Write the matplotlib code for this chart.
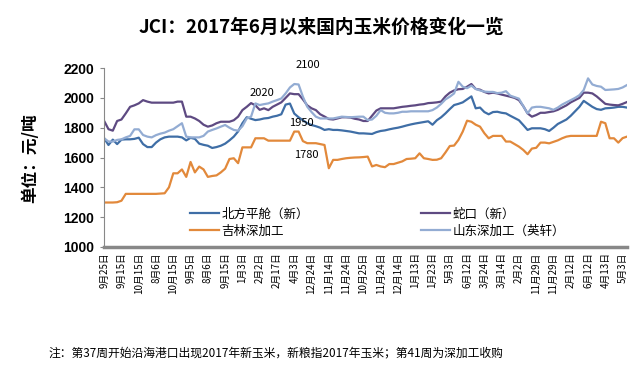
import matplotlib
matplotlib.use('Agg')
import matplotlib.pyplot as plt

plt.rcParams['font.family'] = ['Noto Sans CJK SC', 'DejaVu Sans']

# 日期标签（每4个数据点一个）
tick_labels = ['9月25日', '9月15日', '10月15日', '8月6日', '10月15日', '9月5日', '8月6日',
               '9月15日', '1月3日', '2月2日', '2月17日', '4月3日', '12月24日', '11月14日',
               '11月24日', '10月25日', '11月24日', '12月14日', '1月13日', '1月23日', '5月3日',
               '6月12日', '3月24日', '3月14日', '2月2日', '11月29日', '11月29日', '2月12日',
               '6月12日', '4月13日', '5月3日']

beifang = [1729, 1684, 1720, 1690, 1720, 1722, 1722, 1725, 1733, 1690,
           1670, 1670, 1700, 1722, 1735, 1740, 1740, 1740, 1735, 1715,
           1732, 1725, 1693, 1685, 1679, 1664, 1670, 1679, 1693, 1715,
           1740, 1775, 1830, 1870, 1860, 1851, 1855, 1862, 1865, 1874,
           1880, 1890, 1955, 1962, 1895, 1870, 1850, 1830, 1818, 1810,
           1800, 1785, 1790, 1785, 1785, 1782, 1778, 1774, 1768, 1762,
           1762, 1760, 1758, 1770, 1778, 1782, 1789, 1795, 1800, 1807,
           1815, 1822, 1828, 1833, 1838, 1843, 1820, 1850, 1870, 1896,
           1925, 1952, 1960, 1970, 1990, 2010, 1930, 1935, 1905, 1890,
           1905, 1907, 1900, 1896, 1880, 1865, 1850, 1818, 1785, 1796,
           1796, 1796, 1790, 1778, 1800, 1825, 1840, 1855, 1880, 1910,
           1940, 1980, 1960, 1940, 1925, 1920, 1930, 1932, 1935, 1940,
           1940, 1935]

shekou = [1845, 1790, 1780, 1845, 1855, 1896, 1940, 1950, 1963, 1985,
          1975, 1968, 1968, 1968, 1968, 1968, 1968, 1975, 1975, 1874,
          1874, 1862, 1845, 1820, 1807, 1815, 1830, 1840, 1840, 1840,
          1850, 1874, 1918, 1940, 1965, 1950, 1920, 1930, 1918, 1940,
          1955, 1970, 2000, 2030, 2025, 2025, 1990, 1950, 1930, 1918,
          1890, 1875, 1858, 1855, 1862, 1870, 1870, 1868, 1860, 1855,
          1845, 1845, 1880, 1915, 1930, 1930, 1930, 1930, 1935, 1940,
          1943, 1947, 1950, 1955, 1958, 1965, 1967, 1970, 1975, 2010,
          2035, 2050, 2058, 2060, 2075, 2093, 2060, 2055, 2040, 2030,
          2035, 2030, 2022, 2015, 2008, 2000, 1985, 1945, 1896, 1874,
          1885, 1900, 1900, 1905, 1910, 1920, 1935, 1950, 1970, 1985,
          2000, 2035, 2035, 2030, 2010, 1985, 1960, 1955, 1952, 1950,
          1960, 1972]

jilin = [1298, 1298, 1298, 1300, 1310, 1356, 1356, 1356, 1356, 1356,
         1356, 1356, 1356, 1358, 1360, 1400, 1494, 1494, 1520, 1470,
         1570, 1500, 1539, 1520, 1470, 1476, 1480, 1500, 1525, 1590,
         1595, 1562, 1668, 1668, 1668, 1729, 1729, 1729, 1713, 1713,
         1713, 1713, 1713, 1713, 1774, 1774, 1710, 1696, 1696, 1696,
         1690, 1684, 1528, 1584, 1584, 1590, 1595, 1598, 1600, 1601,
         1603, 1606, 1540, 1550, 1540, 1535, 1556, 1556, 1565, 1574,
         1590, 1592, 1595, 1628, 1595, 1590, 1584, 1585, 1595, 1634,
         1677, 1680, 1718, 1774, 1847, 1840, 1820, 1807, 1763, 1729,
         1745, 1745, 1745, 1707, 1707, 1690, 1673, 1651, 1622, 1660,
         1665, 1700, 1700, 1695, 1705, 1715, 1729, 1740, 1745, 1745,
         1745, 1745, 1745, 1745, 1745, 1840, 1830, 1729, 1729, 1700,
         1730, 1740]

shandong = [1729, 1707, 1707, 1718, 1722, 1735, 1745, 1789, 1789, 1751,
            1740, 1735, 1750, 1760, 1767, 1780, 1790, 1810, 1830, 1740,
            1735, 1735, 1735, 1745, 1774, 1785, 1795, 1807, 1818, 1800,
            1785, 1780, 1810, 1862, 1874, 1963, 1952, 1958, 1963, 1975,
            1985, 1996, 2030, 2070, 2093, 2090, 2008, 1941, 1905, 1874,
            1862, 1862, 1862, 1862, 1868, 1874, 1872, 1870, 1872, 1874,
            1874, 1851, 1855, 1880, 1918, 1900, 1896, 1896, 1900, 1907,
            1907, 1910, 1910, 1910, 1910, 1910, 1918, 1935, 1960, 1990,
            2008, 2030, 2108, 2075, 2065, 2082, 2060, 2050, 2042, 2040,
            2040, 2032, 2035, 2045, 2015, 2005, 1995, 1945, 1896, 1935,
            1940, 1940, 1935, 1930, 1920, 1935, 1955, 1970, 1985, 2000,
            2018, 2053, 2131, 2090, 2080, 2075, 2053, 2055, 2057, 2060,
            2070, 2086]

x = list(range(len(beifang)))

fig = plt.figure(figsize=(6.43, 3.68), dpi=100)
ax = fig.add_axes([0.162, 0.329, 0.813, 0.486])

ax.plot(x, beifang, color='#3F6EA6', lw=1.6, label='北方平舱（新）')
ax.plot(x, jilin, color='#E2893B', lw=1.6, label='吉林深加工')
ax.plot(x, shekou, color='#5E4A82', lw=1.6, label='蛇口（新）')
ax.plot(x, shandong, color='#93ACD3', lw=1.6, label='山东深加工（英轩）')

ax.set_ylim(1000, 2200)
ax.set_yticks(range(1000, 2201, 200))
ax.set_xlim(0, len(x) - 1)
ax.set_xticks(range(0, len(x), 4))
ax.set_xticklabels(tick_labels, rotation=90, fontsize=7)
ax.tick_params(axis='x', length=0, pad=4)
ax.tick_params(axis='y', length=3, color='#888888', pad=4)
for t in ax.get_yticklabels():
    t.set_fontfamily('Liberation Sans')
    t.set_fontweight('bold')
    t.set_fontsize(10)

for s in ['top', 'right']:
    ax.spines[s].set_visible(False)
ax.spines['left'].set_color('#888888')
ax.spines['left'].set_linewidth(0.8)
ax.spines['bottom'].set_color('#888888')
ax.spines['bottom'].set_linewidth(2.5)

# 标注
ax.text(47.2, 2220, '2100', fontsize=8, ha='center', va='center', clip_on=False)
ax.text(36.5, 2032, '2020', fontsize=8, ha='center', va='center')
ax.text(45.6, 1832, '1950', fontsize=8, ha='center', va='center')
ax.text(46.7, 1617, '1780', fontsize=8, ha='center', va='center')

ax.legend(ncol=2, frameon=False, fontsize=9, loc='lower left',
          bbox_to_anchor=(0.143, -0.01), columnspacing=9.0, handlelength=2.3,
          handletextpad=0.2, labelspacing=0.3)

fig.text(0.5, 0.925, 'JCI：2017年6月以来国内玉米价格变化一览', ha='center', va='center',
         fontsize=13.5, fontweight='bold')
fig.text(0.047, 0.57, '单位：元/吨', rotation=90, ha='center', va='center',
         fontsize=12, fontweight='bold')
fig.text(0.075, 0.04, '注：第37周开始沿海港口出现2017年新玉米，新粮指2017年玉米；第41周为深加工收购',
         ha='left', va='center', fontsize=8.5)

fig.savefig('out.png', dpi=100)
